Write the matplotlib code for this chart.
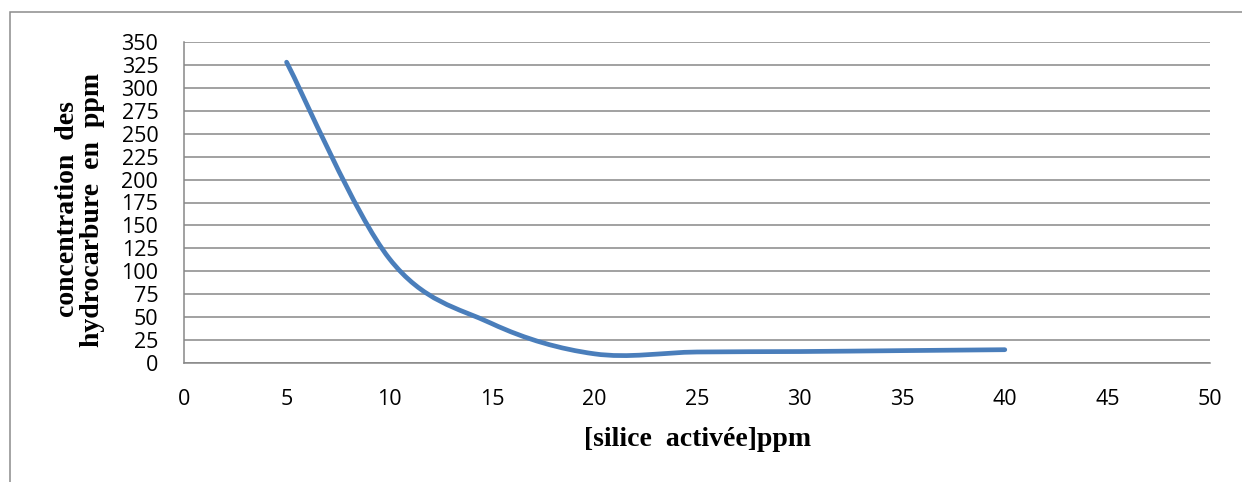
import numpy as np
import matplotlib
matplotlib.use("Agg")
import matplotlib.pyplot as plt
from matplotlib.path import Path
from matplotlib.patches import PathPatch, Rectangle

# data (Excel smoothed line)
silice = [5, 10, 15, 20, 25, 30, 35, 40]
hydrocarbure = [328, 114, 43, 10, 12, 12.5, 13.5, 14.5]
x_ticks = list(range(0, 55, 5))
y_ticks = list(range(0, 375, 25))

GRID = "#878787"
BLUE = "#4A7EBB"


def excel_smooth_path(xs, ys):
    # cubic bezier through the points, control points a la Excel (1/6 of neighbour chord)
    pts = np.column_stack([xs, ys]).astype(float)
    n = len(pts)
    verts = [pts[0]]
    codes = [Path.MOVETO]
    for i in range(n - 1):
        p0 = pts[i - 1] if i > 0 else pts[i]
        p1 = pts[i]
        p2 = pts[i + 1]
        p3 = pts[i + 2] if i + 2 < n else pts[i + 1]
        c1 = p1 + (p2 - p0) / 6.0
        c2 = p2 - (p3 - p1) / 6.0
        verts += [c1, c2, p2]
        codes += [Path.CURVE4] * 3
    return Path(verts, codes)


W, H = 1242, 482
fig = plt.figure(figsize=(W / 100, H / 100), dpi=100)
ax = fig.add_axes([184 / W, 1 - 363 / H, (1210 - 184) / W, (363 - 42) / H])

ax.set_xlim(0, 50)
ax.set_ylim(0, 350)
ax.set_xticks(x_ticks)
ax.set_yticks(y_ticks)
ax.yaxis.grid(True, color=GRID, linewidth=1.1)
ax.set_axisbelow(True)
for side in ["top", "right"]:
    ax.spines[side].set_visible(False)
for side in ["left", "bottom"]:
    ax.spines[side].set_color(GRID)
    ax.spines[side].set_linewidth(1.1)

ax.tick_params(axis="both", length=0, labelsize=15.5, labelcolor="black")
ax.tick_params(axis="x", pad=19)
ax.tick_params(axis="y", pad=18.5)
for lab in ax.get_xticklabels() + ax.get_yticklabels():
    lab.set_family("Open Sans")

curve = PathPatch(excel_smooth_path(silice, hydrocarbure), facecolor="none",
                  edgecolor=BLUE, linewidth=3.4, capstyle="round", joinstyle="round")
ax.add_patch(curve)

serif = "Liberation Serif"
fig.text(697.5 / W, 1 - 440 / H, "[silice  activée]ppm", ha="center", va="center",
         fontsize=20, fontweight="bold", family=serif)
fig.text(80 / W, 1 - 209.5 / H, "concentration  des\nhydrocarbure  en  ppm", ha="center",
         va="center", rotation=90, multialignment="center", linespacing=1.0,
         fontsize=20, fontweight="bold", family=serif)

# outer chart-area border (right/bottom edges fall off the picture)
fig.add_artist(Rectangle((10 / W, -0.1), 1.2, 1 - 12 / H + 0.1, transform=fig.transFigure,
                         facecolor="none", edgecolor="#8c8c8c", linewidth=1.1, clip_on=False))

fig.savefig("out.png", dpi=100)
